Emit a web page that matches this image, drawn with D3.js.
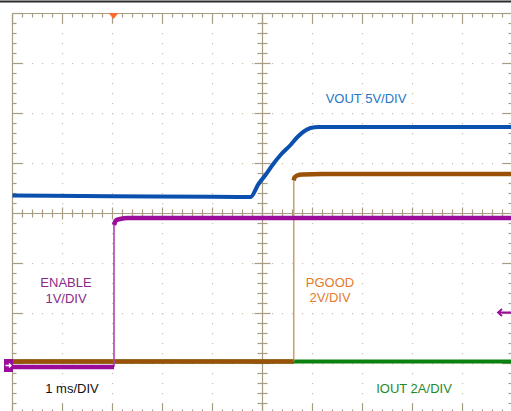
<!DOCTYPE html>
<html><head><meta charset="utf-8">
<script src="https://cdn.jsdelivr.net/npm/d3@7"></script>
<style>html,body{margin:0;padding:0;background:#fff;overflow:hidden}svg{display:block}</style>
</head><body>
<script>
// ---- data (time in ms, values in channel units) ----
const timeDomain = [-5, 5];          // 1 ms/DIV, 10 divisions
const divDomain = [-4, 4];           // 8 vertical divisions
const channelNames = ["IOUT", "PGOOD", "ENABLE", "VOUT"];
const channelScales = [2, 2, 1, 5];              // units per division
const channelZero = [-2.96, -2.96, -3.07, 0.34]; // ground position in divisions
const channelColors = ["#0b820f", "#9a5208", "#9b0c9b", "#0b50ae"];
const edgeColors = ["#0b820f", "#c9a078", "#b040b0", "#0b50ae"];
const channelWidths = [4, 4.5, 4.5, 4];
const labelColors = ["#1f8a2a", "#e47a2c", "#8a2a8a", "#2576c8"];

const ioutT = [-5, 5];
const ioutV = [0, 0];

const pgoodT = [-5, 0.625, 0.625, 0.64, 0.69, 0.8, 1.2, 5];
const pgoodV = [0, 0, 7.24, 7.36, 7.44, 7.48, 7.5, 7.5];

const enableT = [-5, -2.97, -2.97, -2.95, -2.92, -2.85, -2.7, 5];
const enableV = [0, 0, 2.84, 2.9, 2.94, 2.96, 2.98, 2.98];

const voutT = [-5, -3, -1, -0.24, -0.08, 0.06, 0.20, 0.36, 0.56, 0.70, 0.84, 0.96, 1.12, 2.5, 5];
const voutV = [0.1, 0.02, -0.03, -0.05, 1.25, 2.15, 3.15, 4.15, 5.15, 5.95, 6.55, 6.85, 6.95, 6.95, 6.95];

const seriesT = [ioutT, pgoodT, enableT, voutT];
const seriesV = [ioutV, pgoodV, enableV, voutV];

const labelLines = [["IOUT 2A/DIV"], ["PGOOD", "2V/DIV"], ["ENABLE", "1V/DIV"], ["VOUT 5V/DIV"]];
const labelPos = [[414, 393], [330, 286.5], [66, 287], [366, 103]]; // anchor (middle)
const timebaseLabel = "1 ms/DIV";

// ---- drawing ----
const W = 511, H = 411;
const svg = d3.select("body").append("svg").attr("width", W).attr("height", H);
const x = d3.scaleLinear().domain(timeDomain).range([12.5, 512.5]);
const y = d3.scaleLinear().domain(divDomain).range([413.5, 13.5]);

svg.append("line").attr("x1", 0).attr("x2", W).attr("y1", 1.5).attr("y2", 1.5)
  .attr("stroke", "#2b2b2b").attr("stroke-width", 2);

const gridColor = "#a79d82", dotColor = "#c7c1ab";
const g = svg.append("g");
const minorT = d3.range(-5, 5.001, 0.2), minorD = d3.range(-4, 4.001, 0.2);
const majT = d3.range(-5, 5.001, 1), majD = d3.range(-4, 4.001, 1);
const isMaj = v => Math.abs(v - Math.round(v)) < 1e-6;

// dotted graticule
majT.forEach(t => { if (Math.abs(t) < 1e-6 || Math.abs(Math.abs(t) - 5) < 1e-6) return;
  minorD.forEach(d => g.append("rect").attr("x", x(t) - 0.5).attr("y", y(d) - 0.5).attr("width", 1.2).attr("height", 1.2).attr("fill", dotColor)); });
majD.forEach(d => { if (Math.abs(d) < 1e-6 || Math.abs(Math.abs(d) - 4) < 1e-6) return;
  minorT.forEach(t => g.append("rect").attr("x", x(t) - 0.5).attr("y", y(d) - 0.5).attr("width", 1.2).attr("height", 1.2).attr("fill", dotColor)); });

// border and centre axes
const line = (x1, y1, x2, y2, w) => g.append("line").attr("x1", x1).attr("y1", y1).attr("x2", x2).attr("y2", y2).attr("stroke", gridColor).attr("stroke-width", w || 1.2);
line(x(-5), y(4), x(5), y(4)); line(x(-5), y(4), x(-5), y(-4));
line(x(5), y(4), x(5), y(-4)); line(x(-5), y(-4), x(5), y(-4));
line(x(0), y(4), x(0), y(-4)); line(x(-5), y(0), x(5), y(0));
minorT.forEach(t => { const L = isMaj(t) ? 10 : 4;
  line(x(t), y(4), x(t), y(4) + L); line(x(t), y(-4), x(t), y(-4) - L);
  const c = isMaj(t) ? 6 : 4; line(x(t), y(0) - c, x(t), y(0) + c); });
minorD.forEach(d => { const L = isMaj(d) ? 10 : 4;
  line(x(-5), y(d), x(-5) + L, y(d)); line(x(5), y(d), x(5) - L, y(d));
  const c = isMaj(d) ? 8 : 5; line(x(0) - c, y(d), x(0) + c, y(d)); });

// traces
seriesT.forEach((ts, i) => {
  const pts = ts.map((t, k) => [x(t), y(channelZero[i] + seriesV[i][k] / channelScales[i])]);
  let seg = [pts[0]];
  const segs = [], edges = [];
  for (let k = 1; k < pts.length; k++) {
    if (Math.abs(pts[k][0] - pts[k - 1][0]) < 0.01 && Math.abs(pts[k][1] - pts[k - 1][1]) > 5) {
      segs.push(seg); edges.push([pts[k - 1], pts[k]]); seg = [pts[k]];
    } else seg.push(pts[k]);
  }
  segs.push(seg);
  edges.forEach(e => svg.append("line").attr("x1", e[0][0]).attr("y1", e[0][1]).attr("x2", e[1][0]).attr("y2", e[1][1])
    .attr("stroke", edgeColors[i]).attr("stroke-width", 1.6));
  const lg = d3.line().curve(d3.curveMonotoneX);
  segs.forEach(s => svg.append("path").attr("d", lg(s)).attr("fill", "none")
    .attr("stroke", channelColors[i]).attr("stroke-width", channelWidths[i]).attr("stroke-linejoin", "round"));
});

// trigger marker
svg.append("path").attr("d", d3.line()([[x(-2.98) - 5, 13], [x(-2.98) + 5, 13], [x(-2.98), 19]]) + "Z").attr("fill", "#ff6a2c");

// left ground marker for ENABLE
const gy = y(channelZero[2]);
svg.append("rect").attr("x", 4).attr("y", gy - 8).attr("width", 9).attr("height", 13).attr("fill", "#9b0c9b");
svg.append("path").attr("d", `M5.5,${gy - 1.5}H11M9,${gy - 3.5}L11,${gy - 1.5}L9,${gy + 0.5}`).attr("stroke", "#fff").attr("stroke-width", 1.4).attr("fill", "none");

// right arrow marker
svg.append("path").attr("d", `M498,312.5H511M502,309L498,312.5L502,316`).attr("stroke", "#9b0c9b").attr("stroke-width", 1.8).attr("fill", "none");

// labels
labelLines.forEach((ls, i) => {
  ls.forEach((s, j) => svg.append("text").attr("x", labelPos[i][0]).attr("y", labelPos[i][1] + j * 15.5)
    .attr("text-anchor", "middle").attr("font-family", "Liberation Sans, Arial, sans-serif").attr("font-size", 13)
    .attr("fill", labelColors[i]).text(s));
});
svg.append("text").attr("x", 72).attr("y", 393).attr("text-anchor", "middle")
  .attr("font-family", "Liberation Sans, Arial, sans-serif").attr("font-size", 13).attr("fill", "#111").text(timebaseLabel);
</script>
</body></html>
